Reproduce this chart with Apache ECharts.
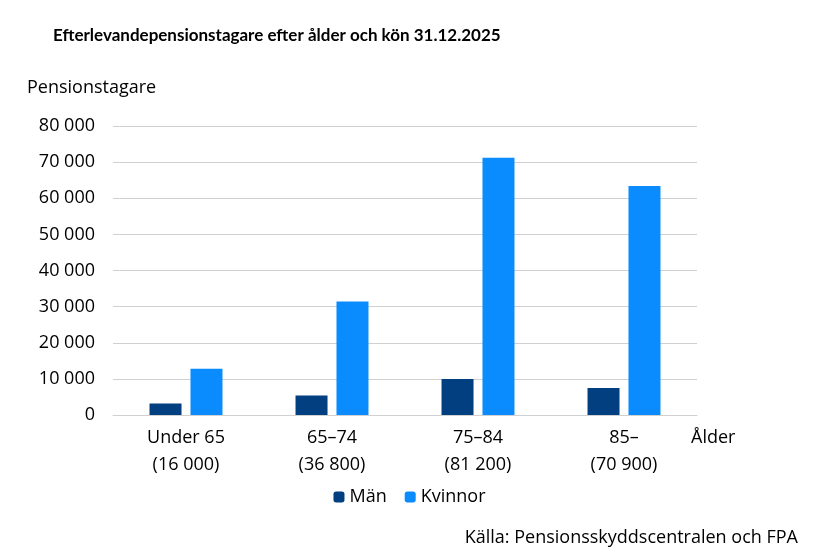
<!DOCTYPE html>
<html><head><meta charset="utf-8">
<script src="https://cdn.jsdelivr.net/npm/echarts@6/dist/echarts.min.js"></script>
<style>html,body{margin:0;padding:0;background:#fff}#c{width:819px;height:556px}</style>
</head><body><div id="c"></div>
<script>
const categories = ['Under 65\n(16 000)', '65–74\n(36 800)', '75–84\n(81 200)', '85–\n(70 900)'];
const man = [3200, 5400, 10000, 7500];
const kvinnor = [12800, 31400, 71200, 63400];
const FONT = 'Open Sans';
const TFONT = 'Lato';
const chart = echarts.init(document.getElementById('c'));
chart.setOption({
  animation: false,
  textStyle: {fontFamily: FONT},
  title: [{
    text: 'Efterlevandepensionstagare efter ålder och kön 31.12.2025',
    left: 48, top: 22,
    textStyle: {fontFamily: TFONT, fontSize: 17, fontWeight: 'bold', color: '#000'}
  }, {
    text: 'Källa: Pensionsskyddscentralen och FPA',
    right: 16, top: 524,
    textStyle: {fontFamily: FONT, fontSize: 18, fontWeight: 'normal', color: '#000'}
  }, {
    text: 'Pensionstagare', left: 22, top: 74,
    textStyle: {fontFamily: FONT, fontSize: 18, fontWeight: 'normal', color: '#000'}
  }, {
    text: 'Ålder', left: 686, top: 424,
    textStyle: {fontFamily: FONT, fontSize: 18, fontWeight: 'normal', color: '#000'}
  }],
  legend: {
    data: ['Män', 'Kvinnor'], top: 483, left: 'center',
    itemWidth: 11, itemHeight: 11, itemGap: 18,
    textStyle: {fontFamily: FONT, fontSize: 18, color: '#000'}
  },
  grid: {left: 113, right: 122, top: 126, bottom: 141},
  xAxis: {
    type: 'category', data: categories,
    axisLine: {lineStyle: {color: '#d0d0d0'}},
    axisTick: {show: false},
    axisLabel: {fontFamily: FONT, fontSize: 18, color: '#000', lineHeight: 27, margin: 9}
  },
  yAxis: {
    type: 'value', min: 0, max: 80000, interval: 10000,
    axisLine: {show: false}, axisTick: {show: false},
    splitLine: {lineStyle: {color: '#d0d0d0'}},
    axisLabel: {fontFamily: FONT, fontSize: 18, color: '#000', margin: 18,
      formatter: v => v === 0 ? '0' : String(v).replace(/\B(?=(\d{3})+(?!\d))/g, ' ')}
  },
  series: [
    {name: 'Män', type: 'bar', data: man, barWidth: 32, barGap: '28%', itemStyle: {color: '#013F80'}},
    {name: 'Kvinnor', type: 'bar', data: kvinnor, barWidth: 32, itemStyle: {color: '#0A8CFF'}}
  ]
});
</script></body></html>
